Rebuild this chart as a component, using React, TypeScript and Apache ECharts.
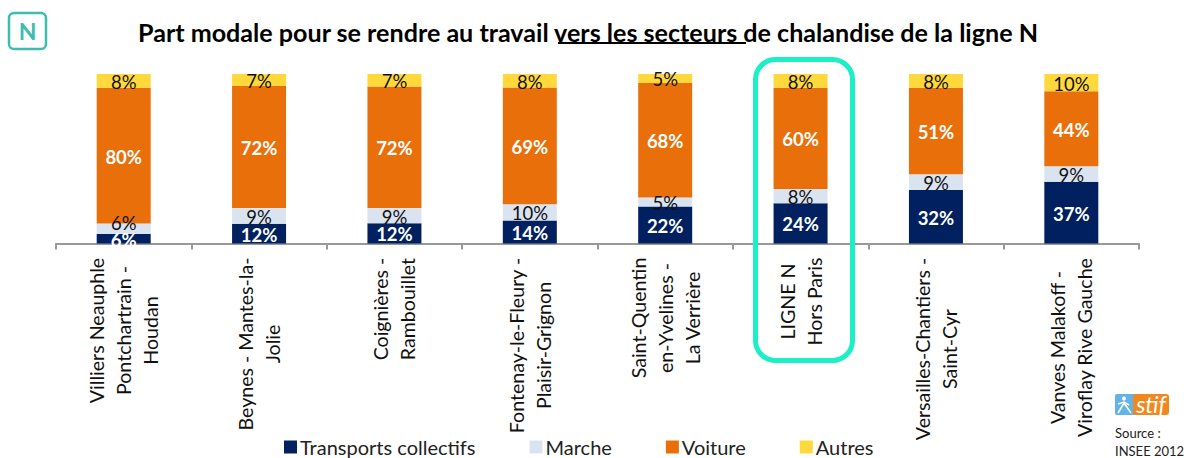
import React, { useEffect, useRef } from "react";
import * as echarts from "echarts";

const titleText = "Part modale pour se rendre au travail vers les secteurs de chalandise de la ligne N";
const categoryLines = [
  ["Villiers Neauphle", "Pontchartrain -", "Houdan"],
  ["Beynes - Mantes-la-", "Jolie"],
  ["Coignières -", "Rambouillet"],
  ["Fontenay-le-Fleury -", "Plaisir-Grignon"],
  ["Saint-Quentin", "en-Yvelines -", "La Verrière"],
  ["LIGNE N", "Hors Paris"],
  ["Versailles-Chantiers -", "Saint-Cyr"],
  ["Vanves Malakoff -", "Viroflay Rive Gauche"],
];
const seriesNames = ["Transports collectifs", "Marche", "Voiture", "Autres"];
const transports = [5.6, 11.6, 12.0, 13.6, 21.8, 23.8, 31.6, 36.5];
const marche = [6.2, 9.3, 9.0, 9.5, 5.4, 8.4, 9.2, 9.1];
const voiture = [80.1, 72.0, 71.6, 68.9, 67.5, 59.7, 51.1, 44.2];
const autres = [8.1, 7.1, 7.4, 8.0, 5.3, 8.1, 8.1, 10.2];
const sourceLines = ["Source :", "INSEE 2012"];

const FONT = "Lato, Carlito, sans-serif";
const LABEL_SIZE = 19.6;

function measure(text: string, size: number) {
  const ctx = document.createElement("canvas").getContext("2d")!;
  ctx.font = `${size}px Lato`;
  return ctx.measureText(text).width;
}

export default function App() {
  const ref = useRef<HTMLDivElement>(null);
  useEffect(() => {
    const chart = echarts.init(ref.current!, undefined, { renderer: "svg" });
    const colors = ["#002060", "#DAE4F1", "#E96F0A", "#FFD93B"];
    const values = [transports, marche, voiture, autres];
    const rich: Record<string, any> = {};
    categoryLines.forEach((lines, i) => {
      rich["c" + i] = {
        width: Math.ceil(Math.max(...lines.map((l) => measure(l, LABEL_SIZE)))),
        align: "center",
        fontFamily: FONT,
        fontSize: LABEL_SIZE,
        lineHeight: 27,
        color: "#111",
      };
    });
    chart.setOption({
      animation: false,
      textStyle: { fontFamily: FONT },
      grid: { left: 56, right: 49, top: 74, height: 169.5, containLabel: false },
      legend: {
        left: 284,
        top: 437,
        itemWidth: 13,
        itemHeight: 13,
        itemGap: 54,
        icon: "rect",
        padding: 0,
        data: seriesNames,
        textStyle: { fontFamily: FONT, fontSize: 20, color: "#222", padding: [0, 0, 0, -2] },
      },
      xAxis: {
        type: "category",
        boundaryGap: true,
        data: categoryLines.map((l) => l.join(" ")),
        axisLine: { show: true, lineStyle: { color: "#999", width: 2 } },
        axisTick: { show: true, length: 6, alignWithLabel: false, lineStyle: { color: "#999", width: 2 } },
        axisLabel: {
          interval: 0,
          rotate: 90,
          align: "right",
          verticalAlign: "middle",
          margin: 14,
          formatter: (_: string, idx: number) =>
            categoryLines[idx].map((l) => `{c${idx}|${l}}`).join("\n"),
          rich,
        },
      },
      yAxis: { type: "value", min: 0, max: 100, show: false },
      series: values.map((vals, s) => ({
        name: seriesNames[s],
        type: "bar",
        stack: "total",
        barWidth: 54,
        itemStyle: { color: colors[s] },
        data: vals.map((v, i) =>
          s === 1 && i === 0 ? { value: v, label: { offset: [0, -6] } } : v
        ),
        label: {
          show: true,
          position: "inside",
          offset: [0, 1],
          fontFamily: FONT,
          fontSize: 18.5,
          fontWeight: s === 0 || s === 2 ? "bold" : "normal",
          color: s === 0 || s === 2 ? "#fff" : "#111",
          formatter: (p: any) => `${Math.round(p.value)}%`,
        },
      })),
      graphic: [
        {
          type: "text",
          x: 588,
          y: 32,
          style: {
            text: titleText,
            fontFamily: FONT,
            fontSize: 25.1,
            fontWeight: "bold",
            fill: "#000",
            align: "center",
            verticalAlign: "middle",
          },
        },
        { type: "rect", shape: { x: 558, y: 42, width: 188, height: 2 }, style: { fill: "#000" } },
        {
          type: "rect",
          shape: { x: 9, y: 13, width: 37, height: 36, r: 5 },
          style: { fill: "#fff", stroke: "#3DBDB0", lineWidth: 2.5 },
        },
        {
          type: "text",
          x: 27.5,
          y: 31,
          style: {
            text: "N",
            fontFamily: FONT,
            fontSize: 23,
            fontWeight: "bold",
            fill: "#3DBDB0",
            align: "center",
            verticalAlign: "middle",
          },
        },
        {
          type: "rect",
          z: 10,
          shape: { x: 755.5, y: 59.5, width: 97, height: 301, r: 20 },
          style: { fill: "none", stroke: "#1CEFC6", lineWidth: 5 },
        },
        { type: "rect", shape: { x: 1115, y: 394, width: 22, height: 21, r: 2 }, style: { fill: "#62B4E8" } },
        { type: "rect", shape: { x: 1133, y: 394, width: 36, height: 21, r: 3 }, style: { fill: "#F0881E" } },
        { type: "circle", shape: { cx: 1124, cy: 398.5, r: 2 }, style: { fill: "#fff" } },
        {
          type: "polyline",
          shape: { points: [[1118, 404], [1124, 402], [1129, 405]] },
          style: { fill: "none", stroke: "#fff", lineWidth: 1.5 },
        },
        {
          type: "polyline",
          shape: { points: [[1118, 413], [1124, 403], [1131, 413]] },
          style: { fill: "none", stroke: "#fff", lineWidth: 1.5 },
        },
        {
          type: "text",
          x: 1151,
          y: 404,
          style: {
            text: "stif",
            fontFamily: FONT,
            fontSize: 23,
            fontStyle: "italic",
            fill: "#fff",
            align: "center",
            verticalAlign: "middle",
          },
        },
        ...sourceLines.map((t, i) => ({
          type: "text",
          x: 1115,
          y: 433 + i * 18,
          style: {
            text: t,
            fontFamily: FONT,
            fontSize: 13,
            fill: "#222",
            align: "left",
            verticalAlign: "middle",
          },
        })),
      ],
    });
    return () => chart.dispose();
  }, []);
  return (
    <div
      ref={ref}
      style={{ position: "absolute", left: 0, top: 0, width: 1188, height: 458, background: "#fff" }}
    />
  );
}
